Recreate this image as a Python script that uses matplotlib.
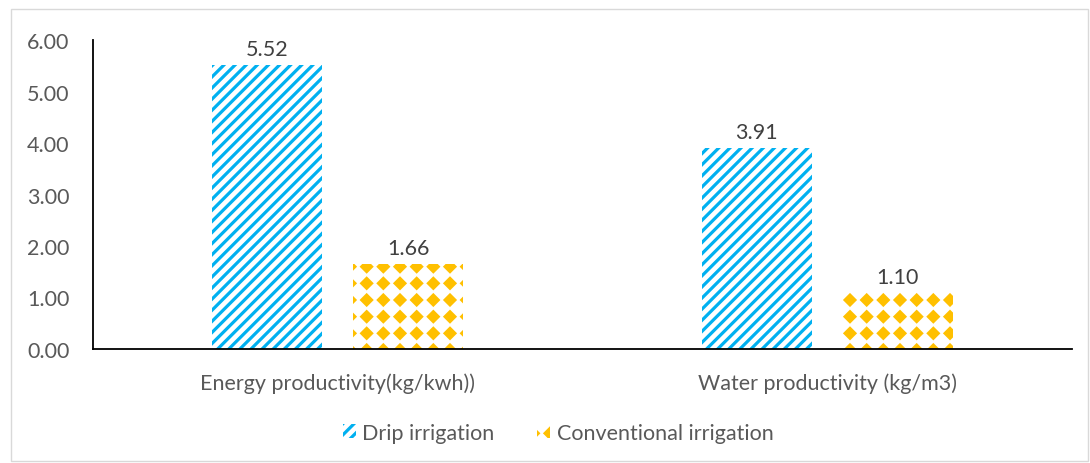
import warnings
import numpy as np
import matplotlib
matplotlib.use('Agg')
import matplotlib.pyplot as plt
from matplotlib import hatch as mhatch
from matplotlib.path import Path
from matplotlib.patches import Rectangle, Patch

warnings.filterwarnings('ignore')

categories = ['Energy productivity(kg/kwh))', 'Water productivity (kg/m3)']
drip = [5.52, 3.91]
conventional = [1.66, 1.10]
series_names = ['Drip irrigation', 'Conventional irrigation']
yticks = [0, 1, 2, 3, 4, 5, 6]


# filled diamond grid hatch, selected with 'd'
class DiamondGrid(mhatch.HatchPatternBase):
    def __init__(self, hatch, density):
        self.n = 6 if 'd' in hatch else 0
        self.num_vertices = (self.n + 1) ** 2 * 5 if self.n else 0

    def set_vertices_and_codes(self, vertices, codes):
        r = 0.29 / self.n
        shape = np.array([[0, r], [r, 0], [0, -r], [-r, 0], [0, r]])
        sc = [Path.MOVETO, Path.LINETO, Path.LINETO, Path.LINETO, Path.CLOSEPOLY]
        pos = np.linspace(0, 1, self.n + 1)
        i = 0
        for yy in pos:
            for xx in pos:
                vertices[i:i + 5] = shape + [xx, yy]
                codes[i:i + 5] = sc
                i += 5


mhatch._hatch_types.append(DiamondGrid)

plt.rcParams['font.family'] = ['Lato', 'DejaVu Sans']
plt.rcParams['hatch.linewidth'] = 2.3
fs = 15.5

fig = plt.figure(figsize=(10.9, 4.64), dpi=100)
ax = fig.add_axes([0.0853, 0.2457, 0.8982, 0.6659])

x = np.arange(len(categories))
w = 0.225
off = 0.144
b1 = ax.bar(x - off, drip, w, color='white', edgecolor='#00B0F0', hatch='///', lw=0,
            label=series_names[0])
b2 = ax.bar(x + off, conventional, w, color='white', edgecolor='#FFC000', hatch='d', lw=0,
            label=series_names[1])

for bars, vals in ((b1, drip), (b2, conventional)):
    for r, v in zip(bars, vals):
        ax.annotate('%.2f' % v, (r.get_x() + r.get_width() / 2, v), xytext=(0, 4),
                    textcoords='offset points', ha='center', va='bottom',
                    fontsize=fs, color='#404040')

ax.set_xlim(-0.5, 1.5)
ax.set_ylim(0, 6)
ax.set_yticks(yticks)
ax.set_yticklabels(['%.2f' % t for t in yticks])
ax.set_xticks(x)
ax.set_xticklabels(categories)
ax.tick_params(axis='both', length=0, labelsize=fs, labelcolor='#595959')
ax.tick_params(axis='y', pad=17)
ax.tick_params(axis='x', pad=17)
for s in ['top', 'right']:
    ax.spines[s].set_visible(False)
ax.spines['left'].set_color('black')
ax.spines['bottom'].set_color('black')
ax.spines['left'].set_linewidth(1.3)
ax.spines['bottom'].set_linewidth(1.3)

handles = [Patch(facecolor='white', edgecolor='#00B0F0', hatch='///', lw=0),
           Patch(facecolor='white', edgecolor='#FFC000', hatch='d', lw=0)]
leg = fig.legend(handles, series_names, loc='center', bbox_to_anchor=(0.512, 0.065),
                 ncol=2, frameon=False, fontsize=fs, handlelength=0.6, handleheight=0.6,
                 handletextpad=0.3, columnspacing=2.0)
for t in leg.get_texts():
    t.set_color('#595959')

fig.patches.append(Rectangle((0.0101, 0.004), 0.988, 0.974, transform=fig.transFigure,
                             fill=False, edgecolor='#D9D9D9', lw=1))

fig.savefig('out.png', dpi=100)
